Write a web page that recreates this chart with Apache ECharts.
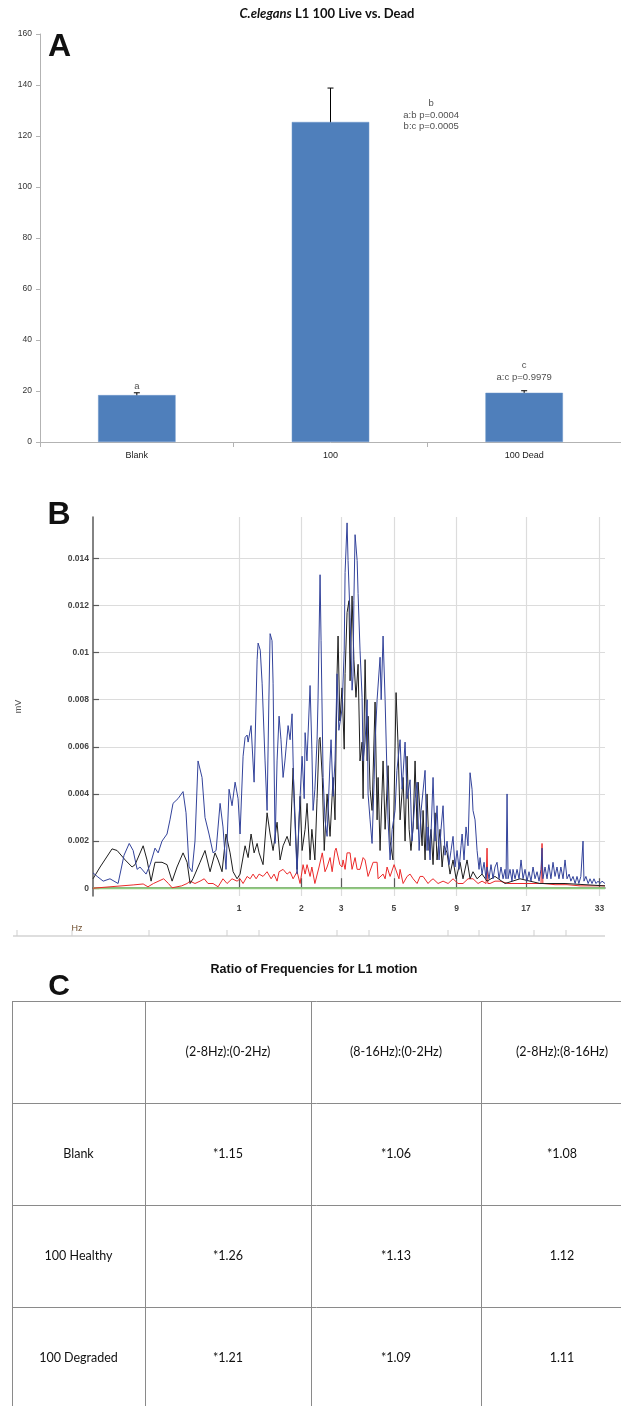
<!DOCTYPE html>
<html>
<head>
<meta charset="utf-8">
<script src="https://cdn.jsdelivr.net/npm/echarts@6/dist/echarts.min.js"></script>
<style>
  html, body { margin: 0; padding: 0; background: #fff; }
  #chart { width: 621px; height: 1406px; }
</style>
</head>
<body>
<div id="chart"></div>
<script>
// ---- Panel A : bar chart ----
const groups = ['Blank', '100', '100 Dead'];
const means = [18.4, 125.5, 19.3];
const errs = [0.9, 13.3, 0.8];
const yTicksA = [0, 20, 40, 60, 80, 100, 120, 140, 160];
// annotation text, x in category units, y in bar units
const noteX = [0, 1.52, 2];
const noteY = [22, 128.2, 27.6];
const noteText = ['a', 'b\na:b p=0.0004\nb:c p=0.0005', 'c\na:c p=0.9979'];

// ---- Panel B : spectra, [Hz, mV] ----
const HZ_SHIFT = 0.35;            // axis is logarithmic in (Hz + 0.35)
const xTicksHz = [1, 2, 3, 5, 9, 17, 33];
const yTicksMv = [0, 0.002, 0.004, 0.006, 0.008, 0.01, 0.012, 0.014];

const greenTrace = [[0.018, 0], [1, 0], [5, 0], [34.67, 0]];

const redTrace = [
  [0.018,0],[0.078,0.00006],[0.176,0.00014],[0.225,0.00018],[0.25,0.00006],[0.28,0.0002],[0.34,0.0004],
  [0.37,0.0002],[0.394,0.00002],[0.427,0.00006],[0.46,0.0001],[0.50,0.0002],[0.523,0.0003],[0.562,0.0002],
  [0.604,0.0003],[0.64,0.0004],[0.674,0.0002],[0.721,0.0002],[0.770,0.00006],[0.82,0.0004],[0.863,0.0002],
  [0.918,0.0004],[0.976,0.0003],[1.012,0.0004],[1.049,0.0002],[1.10,0.0005],[1.14,0.0004],[1.179,0.0006],
  [1.221,0.0004],[1.263,0.0006],[1.321,0.0005],[1.382,0.0007],[1.445,0.0004],[1.493,0.0006],[1.543,0.0003],
  [1.577,0.0007],[1.647,0.0008],[1.719,0.0006],[1.775,0.0007],[1.833,0.0004],[1.912,0.0007],[1.973,0.0002],
  [2.036,0.0010],[2.079,0.0006],[2.122,0.0010],[2.189,0.0005],[2.23,0.0009],[2.30,0.0002],[2.40,0.0009],
  [2.48,0.0015],[2.55,0.0007],[2.604,0.0009],[2.683,0.0013],[2.74,0.0007],[2.82,0.0016],[2.85,0.0017],
  [2.907,0.0017],[2.96,0.0010],[3.025,0.0009],[3.055,0.0012],[3.117,0.0008],[3.179,0.0015],[3.274,0.0015],
  [3.339,0.0008],[3.439,0.0013],[3.51,0.0008],[3.61,0.0008],[3.72,0.0013],[3.792,0.0012],[3.904,0.0005],
  [3.98,0.0005],[4.10,0.0011],[4.26,0.0011],[4.30,0.0004],[4.511,0.0006],[4.60,0.0004],[4.688,0.0009],
  [4.824,0.0005],[5.011,0.0010],[5.25,0.0004],[5.305,0.0008],[5.46,0.0002],[5.669,0.0005],[5.831,0.0006],
  [6.0,0.0004],[6.228,0.0002],[6.406,0.0005],[6.589,0.0005],[6.905,0.0002],[7.035,0.0003],[7.234,0.0004],
  [7.58,0.0002],[7.94,0.0003],[8.32,0.0002],[8.71,0.0004],[9.12,0.0002],[9.55,0.0002],[10.0,0.0004],
  [10.47,0.0004],[10.97,0.0002],[11.38,0.0003],[11.8,0.0002],[11.91,0.0017],[12.0,0.0002],[12.24,0.0002],
  [12.81,0.0003],[13.41,0.0003],[14.43,0.0002],[15.66,0.0002],[16.84,0.0002],[18.11,0.0002],[19.47,0.0002],
  [19.65,0.0019],[19.8,0.0002],[22.1,0.00015],[24.63,0.00015],[27.69,0.0001],[33.15,0.0001],[34.67,0.0001]
];

const blackTrace = [
  [0.018,0.0004],[0.042,0.0009],[0.086,0.00167],[0.106,0.0016],[0.140,0.0012],[0.171,0.0009],[0.185,0.0010],
  [0.225,0.0018],[0.245,0.0012],[0.267,0.0003],[0.289,0.0011],[0.330,0.0011],[0.361,0.0010],[0.394,0.0003],
  [0.427,0.0009],[0.470,0.0015],[0.500,0.0011],[0.523,0.0002],[0.546,0.0004],[0.604,0.0011],[0.647,0.0016],
  [0.693,0.0007],[0.740,0.0015],[0.770,0.0012],[0.810,0.0007],[0.852,0.0023],[0.896,0.0015],[0.930,0.0007],
  [0.976,0.0004],[1.012,0.0006],[1.074,0.0018],[1.113,0.0013],[1.152,0.0023],[1.193,0.0015],[1.235,0.0019],
  [1.263,0.0015],[1.321,0.0010],[1.382,0.0032],[1.429,0.0023],[1.477,0.0016],[1.543,0.0028],[1.594,0.0012],
  [1.647,0.0018],[1.719,0.0022],[1.775,0.0018],[1.833,0.0051],[1.912,0.0008],[1.973,0.0039],[2.015,0.0016],
  [2.079,0.0025],[2.122,0.0036],[2.189,0.0012],[2.23,0.0025],[2.30,0.0012],[2.352,0.0038],[2.401,0.0063],
  [2.425,0.0064],[2.48,0.0047],[2.53,0.0016],[2.604,0.0040],[2.683,0.0022],[2.766,0.0047],[2.82,0.0029],
  [2.878,0.0091],[2.907,0.0107],[2.96,0.0071],[3.025,0.0085],[3.09,0.0059],[3.117,0.0091],[3.179,0.0117],
  [3.24,0.0122],[3.274,0.0088],[3.339,0.0124],[3.40,0.0097],[3.47,0.0081],[3.542,0.0095],[3.61,0.0054],
  [3.683,0.0062],[3.72,0.0038],[3.792,0.0097],[3.87,0.0054],[3.904,0.0073],[3.98,0.0042],[4.058,0.0033],
  [4.177,0.0079],[4.26,0.0029],[4.30,0.0047],[4.383,0.0016],[4.511,0.0054],[4.60,0.0025],[4.733,0.0052],
  [4.824,0.0020],[4.96,0.0012],[5.107,0.0083],[5.20,0.0062],[5.305,0.0029],[5.46,0.0047],[5.562,0.0020],
  [5.669,0.0056],[5.78,0.0025],[5.88,0.0016],[6.0,0.0026],[6.112,0.0054],[6.228,0.0025],[6.29,0.0045],
  [6.406,0.0045],[6.53,0.0018],[6.589,0.0033],[6.714,0.0012],[6.84,0.0040],[6.97,0.0016],[7.10,0.0025],
  [7.234,0.0010],[7.37,0.0032],[7.509,0.0012],[7.721,0.0025],[7.87,0.0009],[8.014,0.0018],[8.24,0.0015],
  [8.472,0.0006],[8.71,0.0012],[8.96,0.0004],[9.293,0.0011],[9.55,0.0004],[9.913,0.0012],[10.19,0.0004],
  [10.47,0.0007],[10.87,0.0004],[11.38,0.0006],[11.91,0.0003],[12.81,0.0005],[14.04,0.0002],[16.09,0.0004],
  [19.29,0.0002],[24.19,0.0002],[34.67,0.0001]
];

const blueTrace = [
  [0.018,0.00065],[0.032,0.0005],[0.053,0.0003],[0.078,0.0004],[0.110,0.0002],[0.135,0.0014],[0.158,0.0019],
  [0.176,0.0016],[0.195,0.0008],[0.209,0.0009],[0.240,0.0006],[0.262,0.0010],[0.289,0.0017],[0.307,0.0015],
  [0.330,0.0020],[0.361,0.0023],[0.380,0.0029],[0.400,0.0036],[0.434,0.0038],[0.470,0.0041],[0.492,0.0032],
  [0.515,0.0009],[0.538,0.0007],[0.562,0.0020],[0.587,0.0054],[0.621,0.0047],[0.647,0.0030],[0.683,0.0023],
  [0.721,0.0015],[0.750,0.0016],[0.790,0.0036],[0.820,0.0026],[0.852,0.0008],[0.885,0.0042],[0.918,0.0035],
  [0.953,0.0045],[0.988,0.0038],[1.012,0.0023],[1.049,0.0056],[1.074,0.0064],[1.10,0.0065],[1.113,0.0062],
  [1.152,0.0069],[1.193,0.0045],[1.235,0.0097],[1.249,0.0104],[1.28,0.0101],[1.307,0.0087],[1.351,0.0054],
  [1.382,0.0033],[1.41,0.0080],[1.429,0.0108],[1.46,0.0105],[1.477,0.0087],[1.51,0.0019],[1.543,0.0054],
  [1.577,0.0073],[1.61,0.0063],[1.647,0.0047],[1.68,0.0054],[1.738,0.0069],[1.775,0.0063],[1.813,0.0074],
  [1.85,0.0038],[1.912,0.0006],[1.95,0.0029],[2.015,0.0056],[2.06,0.0038],[2.079,0.0066],[2.12,0.0054],
  [2.189,0.0086],[2.23,0.0059],[2.258,0.0033],[2.30,0.0042],[2.352,0.0063],[2.375,0.0080],[2.425,0.0133],
  [2.45,0.0105],[2.501,0.0047],[2.55,0.0029],[2.604,0.0022],[2.683,0.0054],[2.71,0.0063],[2.766,0.0039],
  [2.82,0.0054],[2.878,0.0091],[2.93,0.0067],[3.025,0.0076],[3.09,0.0101],[3.117,0.0134],[3.179,0.0155],
  [3.21,0.0139],[3.274,0.0115],[3.34,0.0084],[3.372,0.0090],[3.40,0.0122],[3.439,0.0150],[3.51,0.0139],
  [3.542,0.0125],[3.61,0.0101],[3.683,0.0081],[3.72,0.0054],[3.792,0.0062],[3.87,0.0080],[3.904,0.0040],
  [3.98,0.0029],[4.058,0.0019],[4.14,0.0046],[4.177,0.0062],[4.26,0.0080],[4.383,0.0098],[4.43,0.0080],
  [4.511,0.0107],[4.60,0.0080],[4.688,0.0047],[4.73,0.0029],[4.824,0.0012],[4.92,0.0025],[5.059,0.0033],
  [5.15,0.0050],[5.305,0.0063],[5.41,0.0042],[5.562,0.0062],[5.67,0.0038],[5.831,0.0046],[5.94,0.0020],
  [6.112,0.0038],[6.228,0.0045],[6.35,0.0016],[6.47,0.0033],[6.589,0.0033],[6.714,0.0050],[6.84,0.0016],
  [6.905,0.0026],[7.035,0.0012],[7.234,0.0047],[7.37,0.0020],[7.509,0.0035],[7.65,0.0012],[7.79,0.0025],
  [7.94,0.0035],[8.09,0.0014],[8.24,0.0020],[8.39,0.0010],[8.55,0.0016],[8.71,0.0022],[8.87,0.0009],
  [9.04,0.0016],[9.21,0.0008],[9.38,0.0018],[9.47,0.0023],[9.64,0.0012],[9.82,0.0026],[10.0,0.0018],
  [10.19,0.0049],[10.38,0.0042],[10.47,0.0033],[10.67,0.0029],[10.87,0.0016],[11.07,0.0008],[11.17,0.0013],
  [11.38,0.0006],[11.59,0.0011],[11.8,0.0004],[11.91,0.0009],[12.13,0.0004],[12.35,0.0010],[12.58,0.0004],
  [12.81,0.0009],[13.05,0.0011],[13.29,0.0004],[13.53,0.0009],[13.79,0.0004],[14.04,0.0008],[14.17,0.0004],
  [14.30,0.0040],[14.43,0.0004],[14.69,0.0008],[14.96,0.0003],[15.10,0.0008],[15.38,0.0004],[15.66,0.0008],
  [15.95,0.0004],[16.24,0.0012],[16.54,0.0004],[16.84,0.0008],[17.15,0.0003],[17.46,0.0007],[17.78,0.0003],
  [18.11,0.0009],[18.44,0.0004],[18.78,0.0007],[19.12,0.0003],[19.47,0.0008],[19.65,0.0017],[19.8,0.0004],
  [20.19,0.0009],[20.56,0.0004],[20.9,0.0010],[21.3,0.0004],[21.7,0.0011],[22.1,0.0005],[22.5,0.0009],
  [22.9,0.0004],[23.3,0.0009],[23.76,0.0004],[24.19,0.0012],[24.63,0.0004],[25.1,0.0006],[25.5,0.0003],
  [26.0,0.0005],[26.5,0.0002],[26.95,0.0005],[27.4,0.0002],[27.9,0.0005],[28.45,0.0020],[28.7,0.0003],
  [29.2,0.0005],[29.8,0.0002],[30.3,0.0004],[30.85,0.0002],[31.4,0.0004],[31.98,0.0002],[32.56,0.0003],
  [33.15,0.0002],[33.75,0.0003],[34.67,0.0002]
];

// ---- Panel C : table ----
const tableHead = ['', '(2-8Hz):(0-2Hz)', '(8-16Hz):(0-2Hz)', '(2-8Hz):(8-16Hz)'];
const tableRows = ['Blank', '100 Healthy', '100 Degraded'];
const tableCells = [
  ['*1.15', '*1.06', '*1.08'],
  ['*1.26', '*1.13', '1.12'],
  ['*1.21', '*1.09', '1.11']
];

const chart = echarts.init(document.getElementById('chart'), null, { renderer: 'canvas' });

const shift = (arr) => arr.map(p => [p[0] + HZ_SHIFT, p[1]]);

function txt(x, y, text, font, fill, align) {
  return {
    type: 'text', x: x, y: y, silent: true,
    style: {
      text: text, font: font, fill: fill || '#000',
      align: align || 'center', verticalAlign: 'middle',
      textAlign: align || 'center', textVerticalAlign: 'middle'
    }
  };
}
function seg(x1, y1, x2, y2, color, w) {
  return { type: 'line', silent: true, shape: { x1, y1, x2, y2 }, style: { stroke: color, lineWidth: w || 1 } };
}

// table layout
const colEdges = [12, 145, 311, 481, 643];
const rowEdges = [1001, 1103, 1205, 1307, 1409];
const tableGraphic = [];
rowEdges.slice(0, 4).forEach(y => tableGraphic.push(seg(12, y + 0.5, 621, y + 0.5, '#8a8a8a', 1)));
colEdges.slice(0, 4).forEach(x => tableGraphic.push(seg(x + 0.5, rowEdges[0], x + 0.5, 1406, '#8a8a8a', 1)));
const cellFont = '12.5px Lato';
tableHead.forEach((t, c) => {
  if (t) tableGraphic.push(txt((colEdges[c] + colEdges[c + 1]) / 2, (rowEdges[0] + rowEdges[1]) / 2, t, cellFont, '#111'));
});
tableRows.forEach((name, r) => {
  const cy = (rowEdges[r + 1] + rowEdges[r + 2]) / 2;
  tableGraphic.push(txt((colEdges[0] + colEdges[1]) / 2, cy, name, cellFont, '#111'));
  tableCells[r].forEach((v, c) => {
    tableGraphic.push(txt((colEdges[c + 1] + colEdges[c + 2]) / 2, cy, v, cellFont, '#111'));
  });
});

// strip below panel B
const stripTicks = [17, 72, 149, 227, 259, 337, 369, 448, 479, 534, 566];
const stripGraphic = [seg(13, 936, 605, 936, '#dedede', 2)];
stripTicks.forEach(x => stripGraphic.push(seg(x, 930, x, 936, '#cfcfcf', 1)));

const option = {
  animation: false,
  backgroundColor: '#fff',
  grid: [
    { left: 40, top: 34, width: 596, height: 408 },
    { left: 93, top: 517, width: 512, height: 379 }
  ],
  xAxis: [
    {
      gridIndex: 0, type: 'category', data: groups,
      axisLine: { lineStyle: { color: '#b3b3b3' } },
      axisTick: { show: true, length: 5, lineStyle: { color: '#b3b3b3' } },
      axisLabel: { fontSize: 9, fontFamily: 'Liberation Sans', color: '#222', margin: 9 }
    },
    { gridIndex: 0, type: 'value', min: -0.5, max: 2.5, show: false },
    {
      gridIndex: 1, type: 'log', logBase: Math.E,
      min: 0.018 + HZ_SHIFT, max: 34.67 + HZ_SHIFT,
      axisLine: { lineStyle: { color: '#5a5a5a', width: 1.5 } },
      axisTick: { show: true, inside: true, length: 10, customValues: xTicksHz.map(v => v + HZ_SHIFT),
        lineStyle: { color: '#5a5a5a', width: 1.2 } },
      axisLabel: { customValues: xTicksHz.map(v => v + HZ_SHIFT), margin: 8, fontSize: 8.5,
        fontFamily: 'Liberation Sans', color: '#444', fontWeight: 'bold',
        formatter: v => String(Math.round(v - HZ_SHIFT)) },
      splitLine: { show: true, lineStyle: { color: '#dcdcdc', width: 1.2 } },
      minorTick: { show: false }, minorSplitLine: { show: false }
    }
  ],
  yAxis: [
    {
      gridIndex: 0, type: 'value', min: 0, max: 160, interval: 20,
      axisLine: { show: true, onZero: false, lineStyle: { color: '#b3b3b3' } },
      axisTick: { show: true, length: 4, lineStyle: { color: '#b3b3b3' } },
      axisLabel: { fontSize: 8.5, fontFamily: 'Liberation Sans', color: '#333', margin: 8,
        customValues: yTicksA },
      splitLine: { show: false }
    },
    {
      gridIndex: 1, type: 'value', min: -0.00033, max: 0.01575,
      name: 'mV', nameLocation: 'middle', nameRotate: 90, nameGap: 70,
      nameTextStyle: { fontSize: 9, fontFamily: 'Liberation Sans', color: '#555' },
      axisLine: { show: true, onZero: false, lineStyle: { color: '#5a5a5a', width: 1.5 } },
      axisTick: { show: true, inside: true, length: 6, customValues: yTicksMv,
        lineStyle: { color: '#5a5a5a', width: 1.2 } },
      axisLabel: { customValues: yTicksMv, margin: 4, fontSize: 8.5, fontFamily: 'Liberation Sans',
        color: '#444', fontWeight: 'bold', formatter: v => String(v) },
      splitLine: { show: true, lineStyle: { color: '#dcdcdc', width: 1.2 } }
    }
  ],
  series: [
    {
      type: 'bar', xAxisIndex: 0, yAxisIndex: 0, data: means, barWidth: '40%',
      itemStyle: { color: '#4f7fbb', borderColor: '#6a94c8', borderWidth: 0.5 }, silent: true
    },
    {
      type: 'custom', xAxisIndex: 0, yAxisIndex: 0, silent: true,
      data: means.map((m, i) => [i, m - errs[i], m + errs[i]]),
      renderItem: function (params, api) {
        const top = api.coord([api.value(0), api.value(2)]);
        const bot = api.coord([api.value(0), api.value(1)]);
        const cap = 3, st = { stroke: '#000', lineWidth: 1 };
        return {
          type: 'group', children: [
            { type: 'line', shape: { x1: top[0], y1: top[1], x2: bot[0], y2: bot[1] }, style: st },
            { type: 'line', shape: { x1: top[0] - cap, y1: top[1], x2: top[0] + cap, y2: top[1] }, style: st },
            { type: 'line', shape: { x1: bot[0] - cap, y1: bot[1], x2: bot[0] + cap, y2: bot[1] }, style: st }
          ]
        };
      }
    },
    {
      type: 'scatter', xAxisIndex: 1, yAxisIndex: 0, symbolSize: 0, silent: true,
      data: noteX.map((x, i) => ({ value: [x, noteY[i]], name: noteText[i] })),
      label: {
        show: true, position: 'inside', formatter: p => p.name,
        fontSize: 9.5, lineHeight: 11.5, fontFamily: 'Liberation Sans', color: '#222', align: 'center'
      }
    },
    {
      name: 'green', type: 'line', xAxisIndex: 2, yAxisIndex: 1, data: shift(greenTrace),
      showSymbol: false, silent: true, lineStyle: { color: '#8fcb7d', width: 2 }
    },
    {
      name: 'red', type: 'line', xAxisIndex: 2, yAxisIndex: 1, data: shift(redTrace),
      showSymbol: false, silent: true, lineStyle: { color: '#ec2a2a', width: 1 }
    },
    {
      name: 'black', type: 'line', xAxisIndex: 2, yAxisIndex: 1, data: shift(blackTrace),
      showSymbol: false, silent: true, lineStyle: { color: '#1e1e1e', width: 1 }
    },
    {
      name: 'blue', type: 'line', xAxisIndex: 2, yAxisIndex: 1, data: shift(blueTrace),
      showSymbol: false, silent: true, lineStyle: { color: '#33439b', width: 1 }
    }
  ],
  graphic: [
    {
      type: 'text', x: 327, y: 14, silent: true,
      style: {
        text: '{i|C.elegans} L1 100 Live vs. Dead',
        font: 'bold 13px Lato', fill: '#111',
        align: 'center', verticalAlign: 'middle', textAlign: 'center', textVerticalAlign: 'middle',
        rich: { i: { fontStyle: 'italic', fontWeight: 'bold', fontSize: 13, fontFamily: 'Lato', fill: '#111' } }
      }
    },
    txt(59.5, 47, 'A', 'bold 32px Liberation Sans', '#111'),
    txt(59, 515, 'B', 'bold 32px Liberation Sans', '#111'),
    txt(59, 987, 'C', 'bold 30px Liberation Sans', '#111'),
    txt(77, 929, 'Hz', '9px Liberation Sans', '#6e4c2c'),
    txt(314, 970, 'Ratio of Frequencies for L1 motion', 'bold 12.5px Liberation Sans', '#111')
  ].concat(stripGraphic, tableGraphic)
};

chart.setOption(option);
</script>
</body>
</html>
